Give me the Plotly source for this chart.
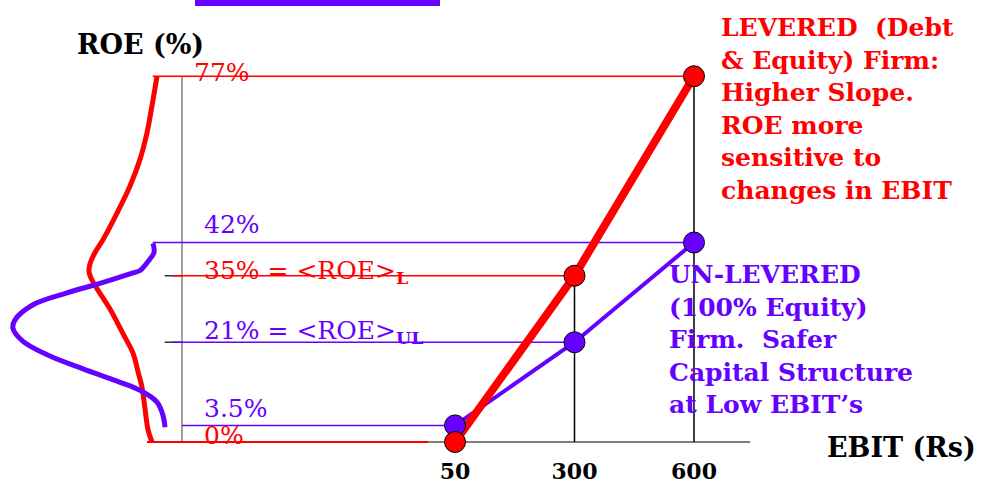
import plotly.graph_objects as go

# ── 1. Data ───────────────────────────────────────
ebit_labels   = ["50", "300", "600"]
roe_levered   = [0, 35, 77]
roe_unlevered = [3.5, 21, 42]

# sketched ROE distributions on the left (ROE %, relative density)
lev_curve_roe  = [77.0, 70.8, 65.1, 59.5, 53.9, 48.2, 42.6, 39.9, 37.5, 35.8,
                  34.1, 32.3, 28.0, 22.8, 18.7, 14.8, 11.5, 7.0, 2.6, 0.0]
lev_curve_dens = [0.13, 0.18, 0.23, 0.30, 0.40, 0.53, 0.67, 0.75, 0.80, 0.81,
                  0.78, 0.73, 0.60, 0.47, 0.37, 0.32, 0.28, 0.25, 0.22, 0.18]
unl_curve_roe  = [41.8, 39.9, 38.0, 36.1, 35.6, 33.4, 31.4, 28.9, 25.7,
                  23.9, 21.2, 18.1, 15.4, 12.8, 10.9, 8.4, 5.6, 3.1]
unl_curve_dens = [0.17, 0.16, 0.22, 0.30, 0.37, 0.70, 1.03, 1.37, 1.55,
                  1.57, 1.47, 1.20, 0.87, 0.53, 0.30, 0.13, 0.07, 0.05]

RED    = "#FF0000"
PURPLE = "#6600FF"
GREY   = "#808080"
SERIF  = "DejaVu Serif"

xi = list(range(len(ebit_labels)))
AXIS_X = -2.285          # where the ROE axis sits, in x units

fig = go.Figure()


def seg(x, y, color, width, xaxis="x"):
    fig.add_trace(go.Scatter(x=x, y=y, mode="lines", xaxis=xaxis,
                             line=dict(color=color, width=width),
                             hoverinfo="skip", showlegend=False))


# ── 2. Axes & guide lines ─────────────────────────
seg([-2.577, 2.47], [0, 0], GREY, 2)                       # EBIT axis
seg([AXIS_X, AXIS_X], [0, max(roe_levered)], GREY, 1.5)     # ROE axis
for v in (roe_levered[1], roe_unlevered[1]):
    seg([-2.43, AXIS_X], [v, v], "#333333", 1.5)

seg([-2.53, xi[2]], [roe_levered[2]] * 2, RED, 1.5)
seg([-2.53, xi[2]], [roe_unlevered[2]] * 2, PURPLE, 1.5)
seg([-2.37, xi[1]], [roe_levered[1]] * 2, RED, 1.5)
seg([-2.37, xi[1]], [roe_unlevered[1]] * 2, PURPLE, 1.5)
seg([AXIS_X, xi[0]], [roe_unlevered[0]] * 2, PURPLE, 1.5)
seg([-2.577, -0.226], [roe_levered[0]] * 2, RED, 2)

# drop lines from each point to the axis
for i in xi:
    seg([i, i], [0, max(roe_levered[i], roe_unlevered[i])], "black", 1.5)

# ── 3. Distribution sketches ──────────────────────
fig.add_trace(go.Scatter(x=lev_curve_dens, y=lev_curve_roe, xaxis="x2",
                         mode="lines", line=dict(color=RED, width=5, shape="spline"),
                         hoverinfo="skip", showlegend=False))
fig.add_trace(go.Scatter(x=unl_curve_dens, y=unl_curve_roe, xaxis="x2",
                         mode="lines", line=dict(color=PURPLE, width=5, shape="spline"),
                         hoverinfo="skip", showlegend=False))

# ── 4. ROE lines ──────────────────────────────────
fig.add_trace(go.Scatter(x=xi, y=roe_unlevered, mode="lines",
                         line=dict(color=PURPLE, width=4), showlegend=False))
fig.add_trace(go.Scatter(x=xi, y=roe_levered, mode="lines",
                         line=dict(color=RED, width=8), showlegend=False))
fig.add_trace(go.Scatter(x=xi, y=roe_unlevered, mode="markers", cliponaxis=False,
                         marker=dict(color=PURPLE, size=21, line=dict(color="black", width=1)),
                         showlegend=False))
fig.add_trace(go.Scatter(x=xi, y=roe_levered, mode="markers", cliponaxis=False,
                         marker=dict(color=RED, size=21, line=dict(color="black", width=1)),
                         showlegend=False))

# ── 5. Labels ─────────────────────────────────────
labels = [
    ("77%", roe_levered[2], RED, -2.19, -12),
    ("42%", roe_unlevered[2], PURPLE, -2.11, 3),
    ("35% = &lt;ROE&gt;<sub><b>L</b></sub>", roe_levered[1], RED, -2.11, -13),
    ("21% = &lt;ROE&gt;<sub><b>UL</b></sub>", roe_unlevered[1], PURPLE, -2.11, -7),
    ("3.5%", roe_unlevered[0], PURPLE, -2.11, 1),
    ("0%", roe_levered[0], RED, -2.11, -9),
]
for txt, v, col, x, dy in labels:
    fig.add_annotation(x=x, y=v, text=txt, showarrow=False, xanchor="left",
                       yanchor="bottom", yshift=dy, borderpad=0,
                       font=dict(family=SERIF, size=25, color=col))

fig.add_annotation(xref="paper", yref="paper", x=75 / 992, y=0.899,
                   text="<b>ROE (%)</b>", showarrow=False,
                   xanchor="left", yanchor="middle",
                   font=dict(family=SERIF, size=27, color="black"))
fig.add_annotation(xref="paper", yref="paper", x=825 / 992, y=-0.005,
                   text="<b>EBIT (Rs)</b>", showarrow=False,
                   xanchor="left", yanchor="middle",
                   font=dict(family=SERIF, size=27, color="black"))

fig.add_annotation(xref="paper", yref="paper", x=719 / 992, y=0.755,
                   text="<b>LEVERED&nbsp; (Debt<br>& Equity) Firm:<br>Higher Slope.<br>"
                        "ROE more<br>sensitive to<br>changes in EBIT</b>",
                   showarrow=False, xanchor="left", yanchor="middle", align="left",
                   font=dict(family=SERIF, size=25, color=RED))
fig.add_annotation(xref="paper", yref="paper", x=667 / 992, y=0.236,
                   text="<b>UN-LEVERED<br>(100% Equity)<br>Firm.&nbsp; Safer<br>"
                        "Capital Structure<br>at Low EBIT’s</b>",
                   showarrow=False, xanchor="left", yanchor="middle", align="left",
                   font=dict(family=SERIF, size=25, color=PURPLE))

# cropped slide title underline at the very top
fig.add_shape(type="rect", xref="paper", yref="paper",
              x0=195 / 992, x1=440 / 992, y0=0.9865, y1=1.0,
              fillcolor=PURPLE, line_width=0)

# ── 6. Layout ─────────────────────────────────────
fig.update_layout(
    width=992, height=487,
    margin=dict(l=0, r=0, t=0, b=42),
    paper_bgcolor="white", plot_bgcolor="white",
    xaxis=dict(range=[-3.808, 4.494], tickvals=xi, ticktext=ebit_labels,
               showgrid=False, zeroline=False, showline=False, automargin=False,
               ticks="outside", ticklen=7, tickcolor="rgba(0,0,0,0)",
               tickfont=dict(family=SERIF, size=22, color="black", weight="bold")),
    xaxis2=dict(range=[1.7, -8.22], overlaying="x", visible=False),
    yaxis=dict(range=[-0.63, 93.05], visible=False, automargin=False),
    showlegend=False,
)

fig.write_html("out.html", config={"displayModeBar": False},
               post_script="document.body.style.margin='0px';")
